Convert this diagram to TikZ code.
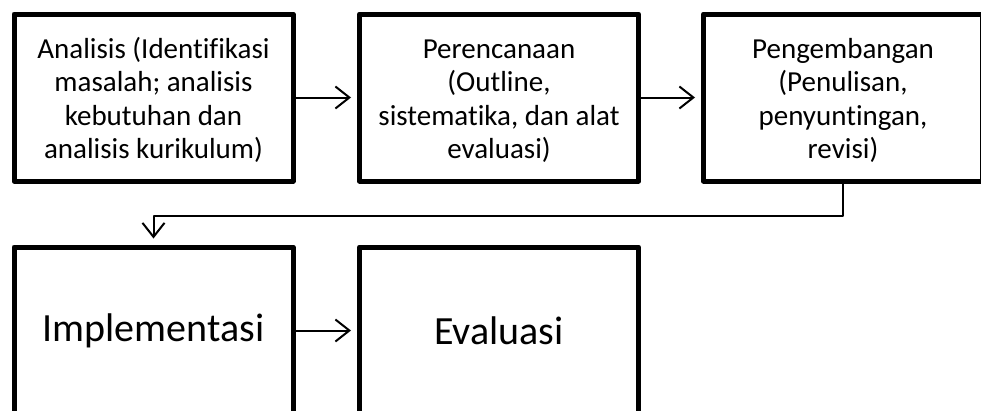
\documentclass[tikz,border=0pt]{standalone}
\usepackage{fontspec}
\setmainfont[Ligatures=NoCommon]{Carlito}
\usepackage{tikz}
\usetikzlibrary{arrows.meta}

\begin{document}
\begin{tikzpicture}[line cap=round,line join=round,x=1pt,y=-1pt,
  stage/.style={draw,line width=5pt,minimum width=279pt,minimum height=167pt,
    align=center,inner sep=0pt,font=\fontsize{29}{33.5}\selectfont},
  bigstage/.style={stage,font=\fontsize{40}{48}\selectfont},
  conn/.style={line width=2pt,-{Straight Barb[length=14pt,width=22pt,line width=2pt]},shorten >=6pt}]
\useasboundingbox (0,0) rectangle (981,410);
\clip (0,0) rectangle (981,410);
\node[stage] (analisis) at (153.5,97.5) {\rule{0pt}{26pt}Analisis (Identifikasi\\ masalah; analisis\\ kebutuhan dan\\ analisis kurikulum)};
\node[stage] (perencanaan) at (499,97.5) {\rule{0pt}{26pt}Perencanaan\\ (Outline,\\ sistematika, dan alat\\ evaluasi)};
\node[stage] (pengembangan) at (843,97.5) {\rule{0pt}{26pt}Pengembangan\\ (Penulisan,\\ penyuntingan,\\ revisi)};
\node[bigstage] (implementasi) at (153.5,330.5) {Implementasi};
\node[bigstage] (evaluasi) at (499,330.5) {Evaluasi};
\draw[conn] (analisis) -- (perencanaan);
\draw[conn] (perencanaan) -- (pengembangan);
\draw[conn] (pengembangan.south) -- ++(0,32) -| (implementasi.north);
\draw[conn] (implementasi) -- (evaluasi);
\end{tikzpicture}
\end{document}
